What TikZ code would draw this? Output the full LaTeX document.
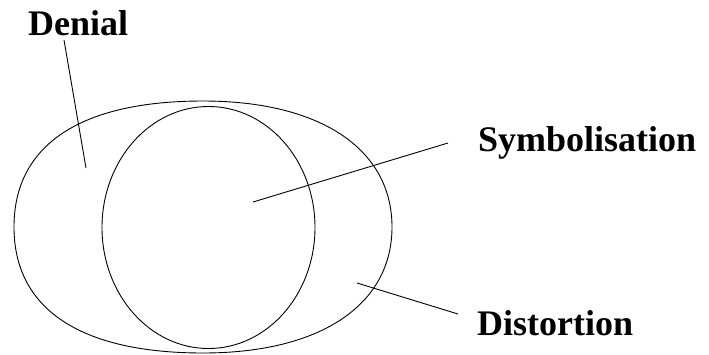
\documentclass[tikz,border=0pt]{standalone}
\usepackage{fontspec}
\setmainfont{Liberation Serif}
\begin{document}
\begin{tikzpicture}[x=1pt,y=-1pt,
  ring/.style={draw=black,line width=0.9pt},
  leader/.style={draw=black,line width=0.9pt},
  lbl/.style={font=\fontsize{36}{40}\selectfont\bfseries,inner sep=0pt,anchor=base west}]
\useasboundingbox (0,0) rectangle (709,354);
% outer (slightly boxy) ellipse
\draw[ring] (203,101) .. controls (320.2,101) and (392,148.9) .. (392,227)
  .. controls (392,305.1) and (320.2,353) .. (203,353)
  .. controls (80.1,353) and (14,308.9) .. (14,227)
  .. controls (14,145.1) and (80.1,101) .. (203,101) -- cycle;
% inner ellipse
\draw[ring] (208.5,227.5) ellipse [x radius=106.5,y radius=121];
\node[lbl] (denial) at (28,35) {Denial};
\node[lbl] (symb) at (478,151) {Symbolisation};
\node[lbl] (dist) at (477,335) {Distortion};
\coordinate (d0) at (64,40);
\coordinate (d1) at (86,168);
\coordinate (s0) at (253,202);
\coordinate (s1) at (448,143);
\coordinate (t0) at (357,283);
\coordinate (t1) at (458,314);
\draw[leader] (d0) -- (d1);
\draw[leader] (s0) -- (s1);
\draw[leader] (t0) -- (t1);
\end{tikzpicture}
\end{document}
